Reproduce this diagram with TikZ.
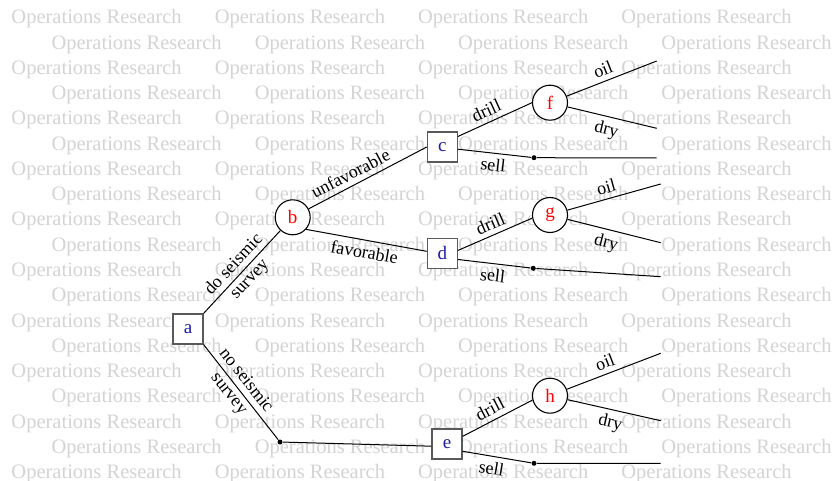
\documentclass[tikz,border=0pt]{standalone}
\usepackage{fontspec}
\setmainfont{Liberation Serif}

\definecolor{nodeblue}{RGB}{28,28,165}
\definecolor{markgray}{RGB}{212,212,212}

\tikzset{
  wmark/.style={anchor=base west, inner sep=0pt, text=markgray,
    font=\fontsize{20.5}{20.5}\selectfont},
  decision/.style={draw=black!65, line width=1.1pt, fill=white,
    minimum size=30pt, inner sep=0pt, text=nodeblue,
    font=\fontsize{19}{19}\selectfont},
  chance/.style={draw, circle, line width=1.1pt, fill=white,
    minimum size=35pt, inner sep=0pt, text=red,
    font=\fontsize{19}{19}\selectfont},
  sdot/.style={circle, fill, inner sep=0pt, minimum size=5pt},
  lbl/.style={sloped, inner sep=5pt, font=\fontsize{18}{21.5}\selectfont}
}

\begin{document}
\begin{tikzpicture}[x=1pt, y=-1pt, line width=1pt]
  \fill[white] (0, 0) rectangle (836, 481);
  \useasboundingbox (0, 0) rectangle (836, 481);

  % background text
  \foreach \r in {0, 2, ..., 18} {
    \foreach \c in {0, ..., 3} {
  \node[wmark] (wm-\r-\c) at (11+203.3*\c, 24+25.25*\r) {Operations Research};
  }
}
  \foreach \r in {1, 3, ..., 17} {
    \foreach \c in {0, ..., 3} {
  \node[wmark] (wm-\r-\c) at (51+203.3*\c, 24+25.25*\r) {Operations Research};
  }
}

  \node[decision] (a) at (188, 329) {a};
  \node[chance] (b) at (292.7, 217.3) {b};
  \node[decision] (c) at (442.3, 147) {c};
  \node[decision] (d) at (442.3, 253.5) {d};
  \node[decision] (e) at (447, 444) {e};
  \node[chance] (f) at (550, 102.7) {f};
  \node[chance] (g) at (550, 215) {g};
  \node[chance] (h) at (550, 395.7) {h};

  \node[sdot] (s0) at (280, 442) {};
  \node[sdot] (s1) at (534, 157.7) {};
  \node[sdot] (s2) at (533.3, 268.3) {};
  \node[sdot] (s3) at (534, 463.3) {};

  \coordinate (f1) at (656.7, 61);
  \coordinate (f2) at (656.7, 128.3);
  \coordinate (c1) at (656.7, 158);
  \coordinate (g1) at (660.7, 184);
  \coordinate (g2) at (660.7, 242.7);
  \coordinate (d1) at (660.7, 276.7);
  \coordinate (h1) at (660.7, 353.3);
  \coordinate (h2) at (660.7, 420.7);
  \coordinate (e1) at (660.7, 463.3);

  \draw (a.north east) -- node[lbl, midway, align=center] (l-ab) {do seismic\\survey} (b);
  \draw (a.south east) -- node[lbl, pos=0.45, align=center] (l-ae) {no seismic\\survey} (s0);
  \draw (s0) -- (e.188);

  \draw (b.28) -- node[lbl, pos=0.4, above] (l-bc) {unfavorable} (c.west);
  \draw (b.-42) -- node[lbl, midway, below] (l-bd) {favorable} (d.172);

  \draw (c.34) -- node[lbl, pos=0.45, above] (l-cf) {drill} (f.west);
  \draw (c.-8) -- node[lbl, midway, below] (l-cs) {sell} (s1) -- (c1);
  \draw (f) -- node[lbl, pos=0.45, above] (l-f1) {oil} (f1);
  \draw (f) -- node[lbl, pos=0.47, below] (l-f2) {dry} (f2);

  \draw (d.11) -- node[lbl, midway, above] (l-dg) {drill} (g.190);
  \draw (d.-21) -- node[lbl, midway, below] (l-ds) {sell} (s2) -- (d1);
  \draw (g) -- node[lbl, pos=0.45, above] (l-g1) {oil} (g1);
  \draw (g) -- node[lbl, pos=0.45, below] (l-g2) {dry} (g2);

  \draw (e.26) -- node[lbl, pos=0.47, above] (l-eh) {drill} (h.194);
  \draw (e.-25) -- node[lbl, pos=0.45, below] (l-es) {sell} (s3) -- (e1);
  \draw (h) -- node[lbl, pos=0.45, above] (l-h1) {oil} (h1);
  \draw (h) -- node[lbl, pos=0.49, below] (l-h2) {dry} (h2);
\end{tikzpicture}
\end{document}
